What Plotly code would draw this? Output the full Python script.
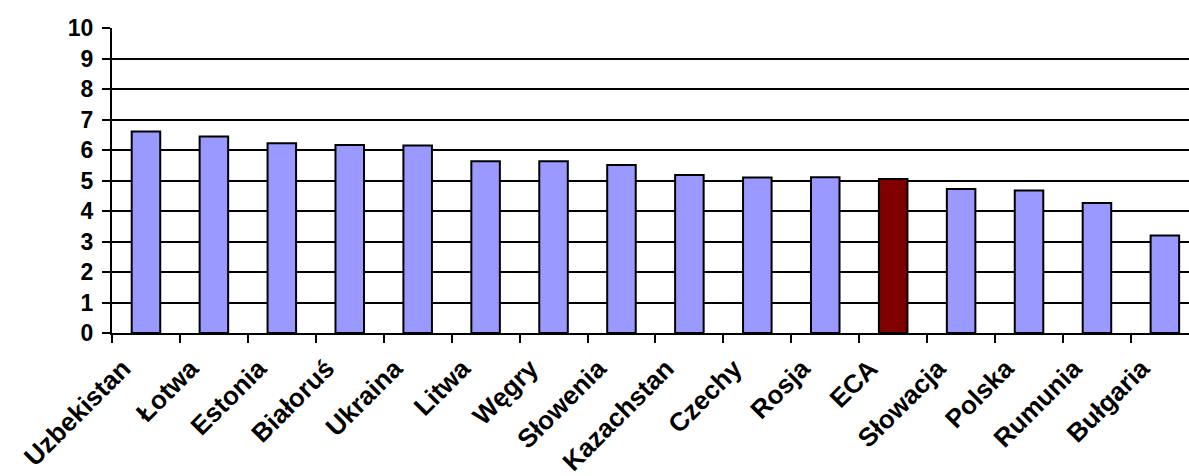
import plotly.graph_objects as go

categories = ["Uzbekistan", "Łotwa", "Estonia", "Białoruś", "Ukraina", "Litwa", "Węgry",
              "Słowenia", "Kazachstan", "Czechy", "Rosja", "ECA", "Słowacja", "Polska",
              "Rumunia", "Bułgaria"]
values = [6.61, 6.44, 6.22, 6.16, 6.15, 5.63, 5.63, 5.51, 5.18, 5.10, 5.11, 5.05,
          4.72, 4.67, 4.26, 3.20]
highlight = "ECA"
y_ticks = list(range(0, 11))

colors = ["#800000" if c == highlight else "#9999FF" for c in categories]

fig = go.Figure(go.Bar(
    x=categories, y=values,
    marker=dict(color=colors, line=dict(color="#000000", width=2)),
))

fam = "Liberation Sans, Arial, sans-serif"

fig.update_layout(
    width=1189, height=476,
    margin=dict(l=112, r=0, t=28, b=143),
    paper_bgcolor="white", plot_bgcolor="white",
    bargap=0.58,
    showlegend=False,
    font=dict(family=fam, size=20, color="#000000"),
)
fig.update_xaxes(
    type="category",
    range=[-0.5, 15.355],
    tickson="boundaries",
    ticks="outside", ticklen=8, tickwidth=2, tickcolor="#000000",
    showline=True, linecolor="#000000", linewidth=2,
    showgrid=False,
    tickangle=-45,
    ticklabelshift=-23,
    ticklabelstandoff=8,
    tickfont=dict(family=fam, size=26, color="#000000", weight="bold"),
)
fig.update_yaxes(
    range=[0, 10],
    tickvals=y_ticks,
    ticks="outside", ticklen=8, tickwidth=2, tickcolor="#000000",
    showline=True, linecolor="#000000", linewidth=2,
    showgrid=True, gridcolor="#000000", gridwidth=2,
    zeroline=False,
    ticklabelstandoff=4,
    tickfont=dict(family=fam, size=23, color="#000000", weight="bold"),
)

fig.write_html("out.html")
